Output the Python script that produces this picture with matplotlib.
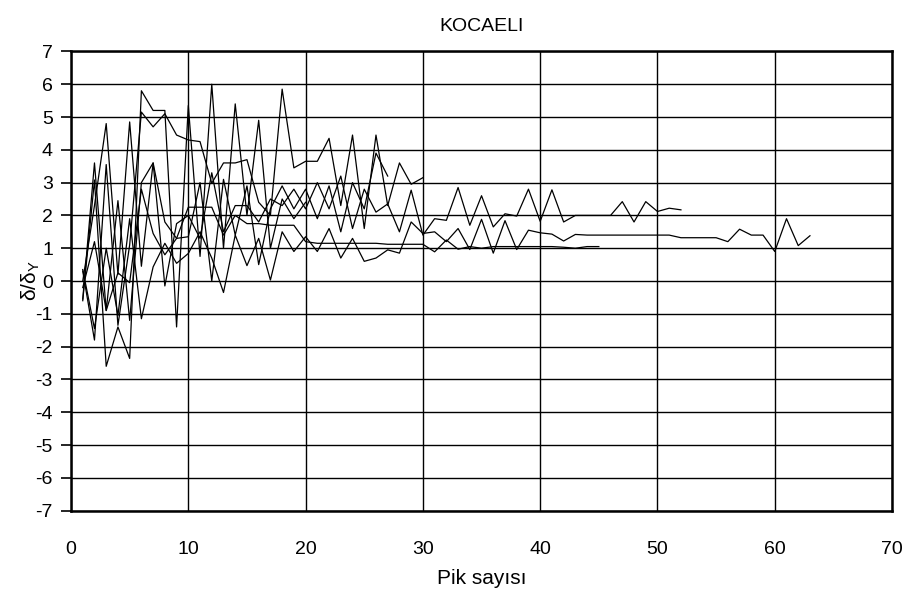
import numpy as np
import matplotlib
matplotlib.use("Agg")
import matplotlib.pyplot as plt

plt.rcParams['font.family'] = ['Liberation Sans', 'DejaVu Sans']
plt.rcParams['axes.unicode_minus'] = False

# peak ratio series, one per record (value at each peak number)
seri_a = [-0.55, 3.6, -0.9, 2.45, -1.2, 3.0, 3.6, 1.8, 1.3, 1.35, 3.0, 0.0, 3.1, 1.4,
          2.9, 0.5, 2.2, 2.9, 2.2, 2.8, 1.9, 2.9, 1.5, 3.0, 2.2, 3.9, 3.2]
seri_b = [0.3, -1.8, 3.55, -1.35, 1.1, 5.15, 4.7, 5.1, 4.45, 4.3, 4.25, 2.98, 3.6, 3.6,
          3.7, 2.4, 2.0, 5.85, 3.45, 3.65, 3.65, 4.35, 2.3, 4.45, 1.6, 4.45, 2.3, 3.6,
          2.95, 3.15]
seri_c = [-0.2, 1.2, -0.9, 0.25, -0.05, 2.8, 1.45, 0.8, 1.3, 2.25, 2.25, 2.25, 1.4, 2.0,
          1.75, 1.75, 1.7, 1.7, 1.7, 1.2, 1.15, 1.15, 1.15, 1.15, 1.15, 1.15, 1.12, 1.12,
          1.12, 1.12, 0.89, 1.25, 0.97, 1.05, 1.0, 1.05, 1.05, 1.05, 1.05, 1.05, 1.05,
          1.03, 1.0, 1.05, 1.05]
seri_d = [0.0, 2.3, 4.8, 0.2, 4.85, 0.45, 3.6, -0.15, 1.75, 2.0, 1.3, 3.3, 1.5, 2.3,
          2.3, 1.8, 2.5, 2.3, 2.8, 2.2, 3.0, 2.2, 3.2, 1.6, 2.8, 2.1, 2.35, 1.5, 2.77,
          1.4, 1.9, 1.85, 2.85, 1.7, 2.6, 1.65, 2.05, 1.98, 2.8, 1.82, 2.78, 1.8, 2.0,
          2.0, 2.0, 2.0, 2.42, 1.8, 2.42, 2.12, 2.22, 2.17]
seri_e = [0.35, -1.45, 1.0, -1.05, 1.9, -1.15, 0.43, 1.15, 0.54, 0.84, 1.5, 0.7, -0.35,
          1.4, 0.47, 1.3, 0.03, 1.5, 0.9, 1.35, 0.9, 1.6, 0.7, 1.3, 0.6, 0.7, 0.95, 0.85,
          1.8, 1.45, 1.5, 1.2, 1.6, 0.96, 1.88, 0.85, 1.84, 0.96, 1.55, 1.47, 1.43, 1.22,
          1.42, 1.4, 1.4, 1.4, 1.4, 1.4, 1.4, 1.4, 1.4, 1.32, 1.32, 1.32, 1.32, 1.2, 1.58,
          1.4, 1.4, 0.9, 1.9, 1.08, 1.38]
seri_f = [-0.6, 3.08, -2.6, -1.4, -2.36, 5.8, 5.2, 5.2, -1.4, 5.35, 0.75, 6.0, 1.0, 5.4,
          2.0, 4.9, 1.0, 2.5, 1.9, 2.4]

seriler = [seri_a, seri_b, seri_c, seri_d, seri_e, seri_f]

fig = plt.figure(figsize=(9.14, 5.95), dpi=100)
ax = fig.add_axes([0.0777, 0.1418, 0.8983, 0.7718])

for s in seriler:
    x = np.arange(1, len(s) + 1)
    ax.plot(x, s, color='black', lw=0.9, zorder=3)

ax.set_xlim(0, 70)
ax.set_ylim(-7, 7)
ax.set_xticks(np.arange(0, 71, 10))
ax.set_yticks(np.arange(-7, 8, 1))
ax.grid(True, color='black', lw=1.0, zorder=1)
ax.tick_params(axis='both', labelsize=14, color='black', width=1.2)
ax.tick_params(axis='y', length=7, pad=6)
ax.tick_params(axis='x', length=0, pad=22)
for sp in ax.spines.values():
    sp.set_linewidth(1.8)

ax.set_title('KOCAELI', fontsize=14, pad=15)
ax.set_xlabel('Pik sayısı', fontsize=15, labelpad=8)
ax.set_ylabel(r'$\mathregular{\delta/\delta_Y}$', fontsize=15)
ax.yaxis.set_label_coords(-0.035, 0.5)

fig.savefig('out.png', dpi=100)
